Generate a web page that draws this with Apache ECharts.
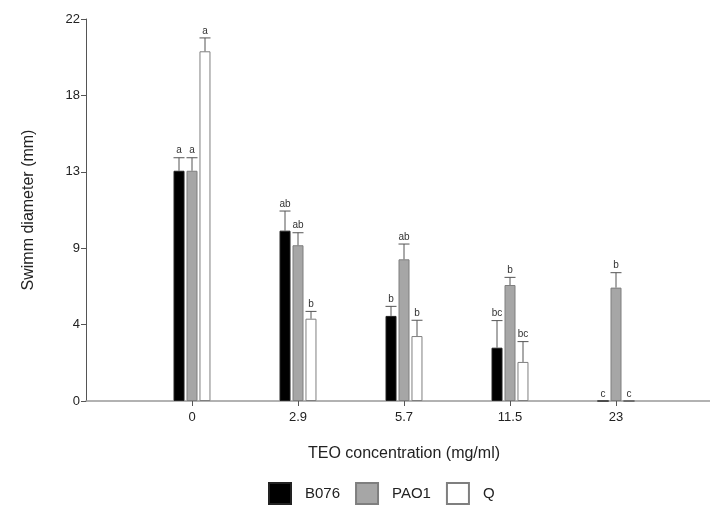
<!DOCTYPE html>
<html>
<head>
<meta charset="utf-8">
<script src="https://cdn.jsdelivr.net/npm/echarts@6/dist/echarts.min.js"></script>
<style>
  html, body { margin: 0; padding: 0; background: #fff; }
  #chart { width: 710px; height: 505px; }
</style>
</head>
<body>
<div id="chart"></div>
<script>
// categories (blank slots at both ends give the axis its padding)
const categories = ['', '0', '2.9', '5.7', '11.5', '23', ''];
const seriesNames = ['B076', 'PAO1', 'Q'];
// means (mm)
const b076 = [null, 13.26, 9.81, 4.90, 3.07, 0, null];
const pao1 = [null, 13.26, 8.97, 8.16, 6.68, 6.53, null];
const q    = [null, 20.14, 4.74, 3.74, 2.25, 0, null];
// error (SD, upper only)
const b076Err = [null, 0.75, 1.13, 0.55, 1.56, 0, null];
const pao1Err = [null, 0.75, 0.72, 0.88, 0.44, 0.86, null];
const qErr    = [null, 0.77, 0.42, 0.91, 1.17, 0, null];
// significance letters
const b076Sig = [null, 'a', 'ab', 'b', 'bc', 'c', null];
const pao1Sig = [null, 'a', 'ab', 'ab', 'b', 'b', null];
const qSig    = [null, 'a', 'b', 'b', 'bc', 'c', null];
// y ticks: 0..22 every 4.4, labels rounded
const yMax = 22;
const yStep = 4.4;

const font = 'Liberation Sans, Arial, sans-serif';
const barW = 11;
const offsets = [-13, 0, 13];

const means = [b076, pao1, q];
const errs = [b076Err, pao1Err, qErr];
const sigs = [b076Sig, pao1Sig, qSig];

const errData = [];
means.forEach((arr, s) => {
  arr.forEach((v, i) => {
    if (v === null) return;
    errData.push([i, v, errs[s][i], sigs[s][i], s]);
  });
});

const chart = echarts.init(document.getElementById('chart'));

const barStyles = [
  { color: '#000000', borderColor: '#222222', borderWidth: 1 },
  { color: '#a6a6a6', borderColor: '#7f7f7f', borderWidth: 1 },
  { color: '#ffffff', borderColor: '#7f7f7f', borderWidth: 1 }
];

const option = {
  animation: false,
  grid: { left: 86, top: 19, bottom: 104, width: 636, outerBoundsMode: 'none' },
  legend: {
    data: seriesNames,
    left: 263,
    top: 477,
    itemWidth: 22,
    itemHeight: 21,
    itemGap: 15,
    icon: 'rect',
    textStyle: { fontFamily: font, fontSize: 15, color: '#222', padding: [0, 0, 0, 9] }
  },
  xAxis: {
    type: 'category',
    data: categories,
    boundaryGap: false,
    name: 'TEO concentration (mg/ml)',
    nameLocation: 'middle',
    nameGap: 45,
    nameTextStyle: { fontFamily: font, fontSize: 16, color: '#222' },
    axisLine: { lineStyle: { color: '#999', width: 1.5 } },
    axisTick: {
      length: 5,
      interval: (i) => categories[i] !== '',
      lineStyle: { color: '#555' }
    },
    axisLabel: {
      interval: 0,
      margin: 10,
      fontFamily: font, fontSize: 13, color: '#222'
    },
    splitLine: { show: false }
  },
  yAxis: {
    type: 'value',
    min: 0,
    max: yMax,
    interval: yStep,
    name: 'Swimm diameter (mm)',
    nameLocation: 'middle',
    nameGap: 49,
    nameTextStyle: { fontFamily: font, fontSize: 16, color: '#222' },
    axisLine: { show: true, lineStyle: { color: '#555' } },
    axisTick: { show: true, length: 5, lineStyle: { color: '#555' } },
    axisLabel: {
      margin: 6,
      fontFamily: font, fontSize: 13, color: '#222',
      formatter: (v) => String(Math.round(v))
    },
    splitLine: { show: false }
  },
  series: [
    ...seriesNames.map((name, s) => ({
      name: name,
      type: 'bar',
      data: means[s],
      barWidth: barW,
      barGap: '18%',
      itemStyle: barStyles[s],
      z: 2
    })),
    {
      type: 'custom',
      data: errData,
      z: 3,
      renderItem: (params, api) => {
        const idx = api.value(0);
        const v = api.value(1);
        const e = api.value(2);
        const s = api.value(4);
        const letter = errData[params.dataIndex][3];
        const base = api.coord([idx, v]);
        const top = api.coord([idx, v + e]);
        const x = base[0] + offsets[s];
        return {
          type: 'group',
          children: [
            { type: 'line', shape: { x1: x, y1: base[1], x2: x, y2: top[1] },
              style: { stroke: '#555', lineWidth: 1 } },
            { type: 'line', shape: { x1: x - barW / 2, y1: top[1], x2: x + barW / 2, y2: top[1] },
              style: { stroke: '#555', lineWidth: 1 } },
            { type: 'text', x: x, y: top[1] - 2,
              style: { text: letter, fontFamily: font, fontSize: 10, fill: '#333',
                       align: 'center', verticalAlign: 'bottom' } }
          ]
        };
      }
    }
  ]
};

chart.setOption(option);
</script>
</body>
</html>
